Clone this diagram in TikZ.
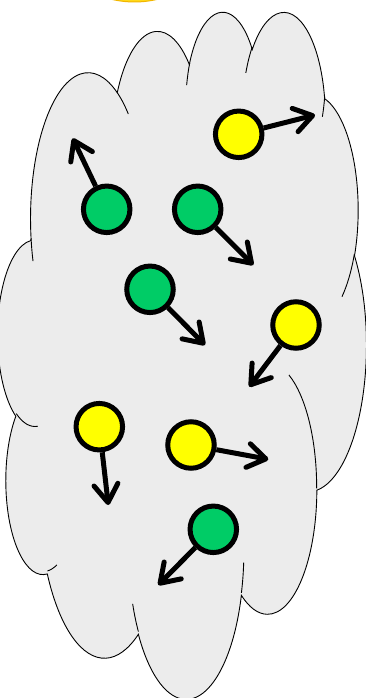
\documentclass[tikz,border=0pt]{standalone}
\usetikzlibrary{arrows.meta}
\definecolor{cloudgray}{HTML}{ECECEC}
\definecolor{ballgreen}{HTML}{00CC66}
\definecolor{ballyellow}{HTML}{FFFF00}
\definecolor{sunfill}{HTML}{FFD91A}
\definecolor{sunline}{HTML}{F2B600}
\newcommand\defarc[5]{%
  \pgfmathsetmacro\cldts{atan2((#2)*sin(#4),(#3)*cos(#4))}%
  \pgfmathsetmacro\cldte{atan2((#2)*sin((#4)+(#5)),(#3)*cos((#4)+(#5)))}%
  \pgfmathsetmacro\cldd{\cldte-(\cldts)}%
  \pgfmathsetmacro\cldd{\cldd-360*round((\cldd-(#5))/360)}%
  \pgfmathsetmacro\cldend{\cldts+\cldd}%
  \expandafter\xdef\csname arc#1s\endcsname{\cldts}%
  \expandafter\xdef\csname arc#1e\endcsname{\cldend}%
}
\tikzset{
  ball/.style={circle, draw=black, line width=5pt, minimum size=46.5pt, inner sep=0pt},
  gball/.style={ball, fill=ballgreen},
  yball/.style={ball, fill=ballyellow},
  move/.style={line width=5pt, -{Straight Barb[round, length=18pt, width=24pt]}},
  cloudline/.style={draw=black, line width=0.9pt},
}
\begin{document}
\begin{tikzpicture}[x=1pt, y=-1pt]
\useasboundingbox (0,0) rectangle (366,698);
% arcs of the cloud outline (wR, hR, start, sweep)
\defarc{A}{67.53}{91.90}{-190.4875}{123.7805}
\defarc{B}{53.33}{72.67}{-144.1024}{89.9452}
\defarc{C}{43.65}{59.45}{-145.8079}{99.7230}
\defarc{D}{48.57}{65.95}{-130.9861}{117.2417}
\defarc{E}{53.33}{72.73}{-78.7089}{109.0269}
\defarc{F}{67.75}{92.20}{-46.2673}{130.2690}
\defarc{G}{57.85}{78.67}{0.6250}{114.0333}
\defarc{H}{67.52}{92.15}{22.4516}{115.1726}
\defarc{I}{77.20}{105.43}{66.2426}{75.7110}
\defarc{J}{43.60}{59.18}{-274.9421}{146.7356}
\defarc{K}{43.45}{59.45}{-246.8285}{152.5189}
% inner arcs
\defarc{a}{43.45}{59.45}{86.7420}{26.4295}
\defarc{b}{43.60}{59.18}{73.6105}{11.4475}
\defarc{c}{67.52}{92.15}{137.6242}{14.0811}
\defarc{d}{67.52}{92.15}{6.4533}{15.9984}
\defarc{e}{57.85}{78.67}{-70.2924}{70.9174}
\defarc{f}{53.33}{72.73}{30.3180}{27.7515}
\defarc{g}{48.57}{65.95}{13.7443}{14.8589}
\defarc{h}{48.57}{65.95}{-149.1815}{18.1954}
\defarc{i}{43.65}{59.45}{-163.4943}{17.6864}
\defarc{j}{67.53}{91.90}{-66.7070}{12.3194}
\defarc{k}{67.53}{91.90}{157.6544}{11.8539}
% partly visible sun at the top
\fill[sunfill, draw=sunline, line width=1pt] (134.5,-96.5) circle[radius=98.5];
\begin{scope}[xshift=-2.2pt, yshift=-10pt, x=0.853pt, y=-1.59pt]
\path[fill=cloudgray, cloudline] (39,143.70)
  arc[x radius=67.53, y radius=91.90, start angle=\arcAs, end angle=\arcAe]
  arc[x radius=53.33, y radius=72.67, start angle=\arcBs, end angle=\arcBe]
  arc[x radius=43.65, y radius=59.45, start angle=\arcCs, end angle=\arcCe]
  arc[x radius=48.57, y radius=65.95, start angle=\arcDs, end angle=\arcDe]
  arc[x radius=53.33, y radius=72.73, start angle=\arcEs, end angle=\arcEe]
  arc[x radius=67.75, y radius=92.20, start angle=\arcFs, end angle=\arcFe]
  arc[x radius=57.85, y radius=78.67, start angle=\arcGs, end angle=\arcGe]
  arc[x radius=67.52, y radius=92.15, start angle=\arcHs, end angle=\arcHe]
  arc[x radius=77.20, y radius=105.43, start angle=\arcIs, end angle=\arcIe]
  arc[x radius=43.60, y radius=59.18, start angle=\arcJs, end angle=\arcJe]
  arc[x radius=43.45, y radius=59.45, start angle=\arcKs, end angle=\arcKe]
  -- cycle;
\draw[cloudline]
  (46.93,261.77) arc[x radius=43.45, y radius=59.45, start angle=\arcas, end angle=\arcae]
  (69.28,348.99) arc[x radius=43.60, y radius=59.18, start angle=\arcbs, end angle=\arcbe]
  (164.78,390.90) arc[x radius=67.52, y radius=92.15, start angle=\arccs, end angle=\arcce]
  (288.27,347.51) arc[x radius=67.52, y radius=92.15, start angle=\arcds, end angle=\arcde]
  (341.29,229.54) arc[x radius=57.85, y radius=78.67, start angle=\arces, end angle=\arcee]
  (417.98,153.54) arc[x radius=53.33, y radius=72.73, start angle=\arcfs, end angle=\arcfe]
  (383.24,54.26) arc[x radius=48.57, y radius=65.95, start angle=\arcgs, end angle=\arcge]
  (290.78,39.52) arc[x radius=48.57, y radius=65.95, start angle=\archs, end angle=\arche]
  (221.41,47.20) arc[x radius=43.65, y radius=59.45, start angle=\arcis, end angle=\arcie]
  (140.00,51.92) arc[x radius=67.53, y radius=91.90, start angle=\arcjs, end angle=\arcje]
  (41.27,157.89) arc[x radius=67.53, y radius=91.90, start angle=\arcks, end angle=\arcke];
\end{scope}
% particles
\node[yball] (y1) at (238.7,134.3) {};
\node[gball] (g1) at (106.7,209.3) {};
\node[gball] (g2) at (197.7,209.3) {};
\node[gball] (g3) at (150,289.3) {};
\node[yball] (y2) at (296,325) {};
\node[yball] (y3) at (99.3,426.7) {};
\node[yball] (y4) at (191,445) {};
\node[gball] (g4) at (213.3,529.3) {};
% arrow ends
\coordinate (y1t) at (315,115);
\coordinate (g1t) at (72.7,138.3);
\coordinate (g2t) at (253.3,265);
\coordinate (g3t) at (205,345);
\coordinate (y2t) at (249.3,386.7);
\coordinate (y3t) at (108.3,505);
\coordinate (y4t) at (268.3,459.3);
\coordinate (g4t) at (158.3,585);
\foreach \b in {y1,g1,g2,g3,y2,y3,y4,g4}
  \draw[move] (\b) -- (\b t);
\end{tikzpicture}
\end{document}
